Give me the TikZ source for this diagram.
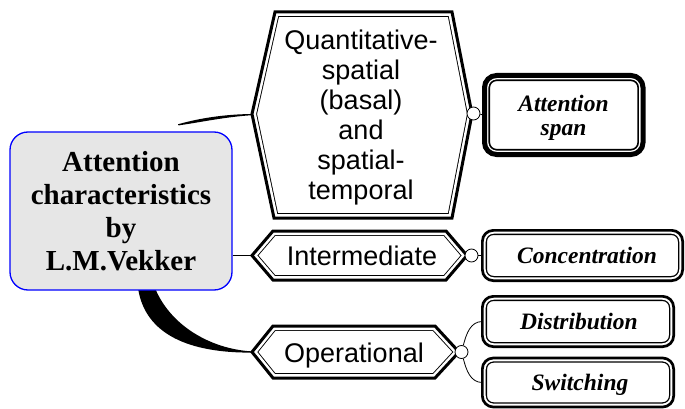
\documentclass[tikz,border=0pt]{standalone}
\usepackage{fontspec}
\setmainfont{Liberation Serif}
\newfontfamily\hexfont{Liberation Sans}
\usetikzlibrary{calc}

\definecolor{rootfill}{HTML}{E6E6E6}
\definecolor{rootline}{HTML}{0000FF}

% Double outline: thick outer stroke plus a thin line set inside the shape.
% #1 path, #2 outer width, #3 inner band width, #4 white band width
\newcommand\dblframe[4]{%
  \fill[white] #1;
  \begin{scope}
    \clip #1;
    \draw[line width=#3, line join=miter] #1;
    \draw[white, line width=#4, line join=miter] #1;
  \end{scope}
  \draw[line width=#2, line join=miter] #1;
}

\begin{document}
\begin{tikzpicture}[x=1pt,y=-1pt,
  rootbox/.style={draw=rootline, fill=rootfill, line width=1.3pt,
    rounded corners=18pt, minimum width=222pt, minimum height=158pt,
    align=center, inner sep=0pt,
    font=\bfseries\fontsize{29}{33.2}\selectfont},
  hexlabel/.style={font=\hexfont\fontsize{27}{30}\selectfont, align=center, inner sep=0pt},
  leaflabel/.style={font=\bfseries\itshape\fontsize{23.5}{24.5}\selectfont, align=center, inner sep=0pt},
  leafbox/.style={outer sep=0pt, inner sep=0pt},
  joint/.style={circle, draw, fill=white, line width=0.8pt, minimum size=13pt, inner sep=0pt},
  link/.style={line width=0.8pt}]
\useasboundingbox (0,0) rectangle (685,409);

% hexagon corner points
\coordinate (qL) at (252,114);   \coordinate (qTL) at (275,12);
\coordinate (qTR) at (452,12);   \coordinate (qR) at (472,114);
\coordinate (qBR) at (452,218);  \coordinate (qBL) at (274,218);
\coordinate (iL) at (252,255.5); \coordinate (iTL) at (273,231);
\coordinate (iTR) at (446,231);  \coordinate (iR) at (467,255.5);
\coordinate (iBR) at (446,280);  \coordinate (iBL) at (273,280);
\coordinate (oL) at (252,352);   \coordinate (oTL) at (273,326);
\coordinate (oTR) at (435,326);  \coordinate (oR) at (459,352);
\coordinate (oBR) at (435,378);  \coordinate (oBL) at (273,378);

% tapered branches leaving the central box
\coordinate (topstart) at (178,124.3);
\coordinate (botstart) at (138,288);
\fill (topstart) .. controls (200,118) and (225,114.3) .. (qL)
  -- ++(0,1.2) .. controls (225,117) and (205,121.5) .. (178.6,125.4) -- cycle;
\fill (botstart) .. controls (145,335) and (190,353) .. ($(oL)+(0,0.6)$)
  -- ($(oL)+(0,-0.6)$) .. controls (210,349) and (170,325) .. (155,288) -- cycle;

% central box
\node[rootbox] (root) at (121,211) {Attention\\characteristics\\by\\L.M.Vekker};

\draw[link] (root.east |- iL) -- (iL);

% hexagons
\dblframe{(qL) -- (qTL) -- (qTR) -- (qR) -- (qBR) -- (qBL) -- cycle}{3pt}{9.8pt}{8pt}
\dblframe{(iL) -- (iTL) -- (iTR) -- (iR) -- (iBR) -- (iBL) -- cycle}{3pt}{9.8pt}{8pt}
\dblframe{(oL) -- (oTL) -- (oTR) -- (oR) -- (oBR) -- (oBL) -- cycle}{3pt}{9.8pt}{8pt}

% leaf boxes
\node[leafbox, minimum width=158.5pt, minimum height=79pt] (spanbox) at (563.75,115) {};
\node[leafbox, minimum width=200.3pt, minimum height=50.3pt] (concbox) at (582.5,255.5) {};
\node[leafbox, minimum width=191.3pt, minimum height=50.3pt] (distbox) at (578,321.5) {};
\node[leafbox, minimum width=191.3pt, minimum height=49pt] (switbox) at (578,382.5) {};

% joints and links to the leaves
\node[joint] (qc) at (473.5,113.5) {};
\node[joint] (ic) at (471.5,255.5) {};
\node[joint] (oc) at (461.5,352) {};
\draw[link] (qc) -- (spanbox.west);
\draw[link] (ic) -- (concbox.west);
\draw[link] (oc) to[out=75,in=180] (distbox.west);
\draw[link] (oc) to[out=-75,in=180] (switbox.west);

\dblframe{[rounded corners=12pt] (spanbox.north west) rectangle (spanbox.south east)}{5pt}{11.1pt}{7.7pt}
\dblframe{[rounded corners=11pt] (concbox.north west) rectangle (concbox.south east)}{2.7pt}{9.3pt}{6.7pt}
\dblframe{[rounded corners=11pt] (distbox.north west) rectangle (distbox.south east)}{2.7pt}{9.3pt}{6.7pt}
\dblframe{[rounded corners=11pt] (switbox.north west) rectangle (switbox.south east)}{2.7pt}{9.3pt}{6.7pt}

% labels
\node[hexlabel] (qtext) at (361,118) {Quantitative-\\spatial\\(basal)\\and\\spatial-\\temporal};
\node[hexlabel, anchor=base] (itext) at (362,265.5) {Intermediate};
\node[hexlabel, anchor=base] (otext) at (354,362) {Operational};
\node[leaflabel] (spantext) at (563.5,118) {Attention\\span};
\node[leaflabel, anchor=base] (conctext) at (587,263.5) {Concentration};
\node[leaflabel, anchor=base] (disttext) at (579,329.5) {Distribution};
\node[leaflabel, anchor=base] (swittext) at (580,390.5) {Switching};
\end{tikzpicture}
\end{document}
